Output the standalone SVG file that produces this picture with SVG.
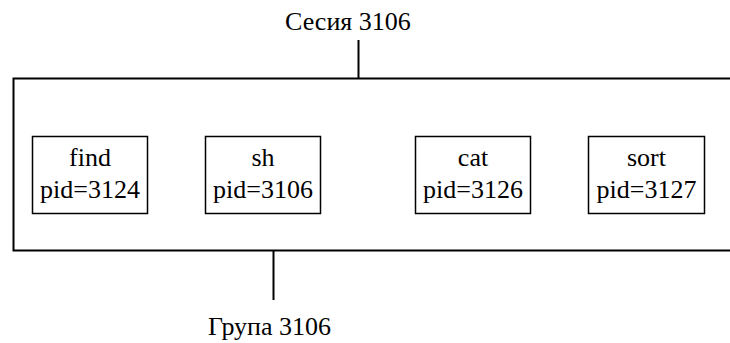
<svg xmlns="http://www.w3.org/2000/svg" width="730" height="343" viewBox="0 0 730 343">
<style>
text{font-family:'Liberation Serif','DejaVu Serif',serif;font-size:26px;fill:#000}
.box{fill:#fff;stroke:#000;stroke-width:1.5}
.ln{fill:none;stroke:#000;stroke-width:2}
</style>
<rect width="730" height="343" fill="#fff"/>
<g id="connectors">
<path class="ln" d="M730,78.5 H13.5 V250.5 H730"/>
<line class="ln" x1="358.5" y1="40" x2="358.5" y2="78.5"/>
<line class="ln" x1="273.5" y1="250.5" x2="273.5" y2="300"/>
</g>
<g id="session"><text x="285" y="30">Сесия 3106</text></g>
<g id="group"><text x="208" y="335">Група 3106</text></g>
<g id="find"><rect class="box" x="32.5" y="136.5" width="115" height="77"/><text x="90" y="166" text-anchor="middle">find</text><text x="90" y="198" text-anchor="middle">pid=3124</text></g>
<g id="sh"><rect class="box" x="205.5" y="136.5" width="115" height="77"/><text x="263" y="166" text-anchor="middle">sh</text><text x="263" y="198" text-anchor="middle">pid=3106</text></g>
<g id="cat"><rect class="box" x="415.5" y="136.5" width="115" height="77"/><text x="473" y="166" text-anchor="middle">cat</text><text x="473" y="198" text-anchor="middle">pid=3126</text></g>
<g id="sort"><rect class="box" x="588.5" y="136.5" width="116" height="77"/><text x="646.5" y="166" text-anchor="middle">sort</text><text x="646.5" y="198" text-anchor="middle">pid=3127</text></g>
</svg>
